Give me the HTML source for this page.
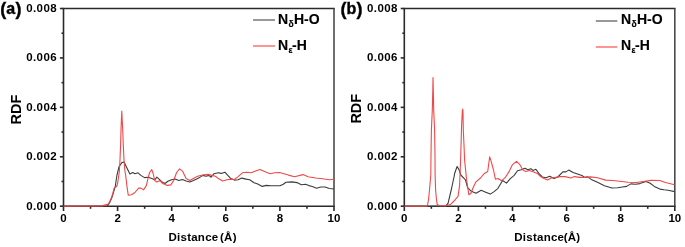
<!DOCTYPE html>
<html><head><meta charset="utf-8"><style>
html,body{margin:0;padding:0;background:#fff;}
body{width:685px;height:247px;overflow:hidden;}
svg{display:block;will-change:transform;}
text{font-family:"Liberation Sans",sans-serif;font-weight:bold;fill:#000;stroke:#000;stroke-width:0;}
.t{font-size:11.5px;}
.ty{font-size:11.5px;letter-spacing:0.4px;}
.xl{font-size:11.5px;letter-spacing:0.25px;}
.rdf{font-size:14.5px;}
.pl{font-size:16px;stroke-width:0.4px;}
.pp{font-size:18px;stroke-width:0.4px;}
.lg{font-size:14px;stroke-width:0.15px;}
.sub{font-size:8.5px;}
</style></head><body>
<svg width="685" height="247" viewBox="0 0 685 247">
<line x1="62.7" y1="8.5" x2="334.8" y2="8.5" stroke="#2a2a2a" stroke-width="1.6"/>
<line x1="62.7" y1="206.2" x2="334.8" y2="206.2" stroke="#2a2a2a" stroke-width="1.6"/>
<line x1="63.5" y1="8.5" x2="63.5" y2="206.2" stroke="#2a2a2a" stroke-width="1.6"/>
<line x1="334.0" y1="8.5" x2="334.0" y2="206.2" stroke="#4a4a4a" stroke-width="1.6"/>
<line x1="63.50" y1="206.2" x2="63.50" y2="211.0" stroke="#2a2a2a" stroke-width="1.6"/>
<text x="63.50" y="222" text-anchor="middle" class="t">0</text>
<line x1="90.55" y1="206.2" x2="90.55" y2="208.79999999999998" stroke="#2a2a2a" stroke-width="1.6"/>
<line x1="117.60" y1="206.2" x2="117.60" y2="211.0" stroke="#2a2a2a" stroke-width="1.6"/>
<text x="117.60" y="222" text-anchor="middle" class="t">2</text>
<line x1="144.65" y1="206.2" x2="144.65" y2="208.79999999999998" stroke="#2a2a2a" stroke-width="1.6"/>
<line x1="171.70" y1="206.2" x2="171.70" y2="211.0" stroke="#2a2a2a" stroke-width="1.6"/>
<text x="171.70" y="222" text-anchor="middle" class="t">4</text>
<line x1="198.75" y1="206.2" x2="198.75" y2="208.79999999999998" stroke="#2a2a2a" stroke-width="1.6"/>
<line x1="225.80" y1="206.2" x2="225.80" y2="211.0" stroke="#2a2a2a" stroke-width="1.6"/>
<text x="225.80" y="222" text-anchor="middle" class="t">6</text>
<line x1="252.85" y1="206.2" x2="252.85" y2="208.79999999999998" stroke="#2a2a2a" stroke-width="1.6"/>
<line x1="279.90" y1="206.2" x2="279.90" y2="211.0" stroke="#2a2a2a" stroke-width="1.6"/>
<text x="279.90" y="222" text-anchor="middle" class="t">8</text>
<line x1="306.95" y1="206.2" x2="306.95" y2="208.79999999999998" stroke="#2a2a2a" stroke-width="1.6"/>
<line x1="334.00" y1="206.2" x2="334.00" y2="211.0" stroke="#2a2a2a" stroke-width="1.6"/>
<text x="334.00" y="222" text-anchor="middle" class="t">10</text>
<line x1="59.9" y1="206.20" x2="63.5" y2="206.20" stroke="#2a2a2a" stroke-width="1.6"/>
<text x="57.00" y="209.50" text-anchor="end" class="ty">0.000</text>
<line x1="61.5" y1="181.49" x2="63.5" y2="181.49" stroke="#2a2a2a" stroke-width="1.6"/>
<line x1="59.9" y1="156.77" x2="63.5" y2="156.77" stroke="#2a2a2a" stroke-width="1.6"/>
<text x="57.00" y="160.07" text-anchor="end" class="ty">0.002</text>
<line x1="61.5" y1="132.06" x2="63.5" y2="132.06" stroke="#2a2a2a" stroke-width="1.6"/>
<line x1="59.9" y1="107.35" x2="63.5" y2="107.35" stroke="#2a2a2a" stroke-width="1.6"/>
<text x="57.00" y="110.65" text-anchor="end" class="ty">0.004</text>
<line x1="61.5" y1="82.64" x2="63.5" y2="82.64" stroke="#2a2a2a" stroke-width="1.6"/>
<line x1="59.9" y1="57.93" x2="63.5" y2="57.93" stroke="#2a2a2a" stroke-width="1.6"/>
<text x="57.00" y="61.23" text-anchor="end" class="ty">0.006</text>
<line x1="61.5" y1="33.21" x2="63.5" y2="33.21" stroke="#2a2a2a" stroke-width="1.6"/>
<line x1="59.9" y1="8.50" x2="63.5" y2="8.50" stroke="#2a2a2a" stroke-width="1.6"/>
<text x="57.00" y="11.80" text-anchor="end" class="ty">0.008</text>
<polyline points="63.6,206.2 107.4,206.0 109.6,202.8 111.9,197.5 114.1,190.3 115.4,185.9 116.2,180.0 117.0,175.0 119.0,166.7 121.9,162.6 124.1,162.0 126.3,166.7 129.9,174.0 132.8,172.5 135.0,173.7 138.0,172.8 140.9,175.4 144.5,177.6 148.2,177.2 151.8,178.6 154.7,179.8 156.9,177.2 159.1,179.1 162.0,182.0 165.0,183.5 167.9,181.3 171.5,179.8 175.2,179.1 178.8,180.5 182.5,179.5 186.1,181.0 189.8,182.0 193.4,180.5 197.8,178.4 199.4,177.6 203.0,175.4 206.0,176.2 208.9,175.4 211.1,177.2 214.0,173.7 218.4,172.8 221.3,173.4 224.9,172.2 227.8,175.4 230.8,178.6 234.4,180.1 238.1,179.8 241.7,178.1 246.1,179.1 249.7,179.8 254.1,182.7 257.8,183.9 262.2,186.4 266.5,185.4 270.9,185.7 275.3,185.7 280.0,185.8 283.3,184.2 286.0,182.2 291.9,181.9 297.0,182.6 301.3,184.8 305.5,184.3 308.9,185.6 312.3,186.5 316.6,188.2 320.8,187.0 325.1,187.0 329.3,188.5 334.0,189.0" fill="none" stroke="#3c3c3c" stroke-width="1.1" stroke-linejoin="round"/>
<polyline points="63.6,206.2 102.0,205.9 108.3,204.1 110.5,200.1 112.7,193.9 114.1,188.1 116.5,186.5 117.5,184.2 119.3,172.0 120.0,160.0 120.6,145.0 121.0,130.0 121.4,120.0 121.8,111.0 122.2,120.0 122.7,130.0 123.3,145.0 124.0,160.0 124.8,170.0 125.6,175.0 127.2,188.1 128.3,195.3 131.6,194.7 134.9,192.5 138.7,188.1 140.9,188.1 143.7,189.8 146.4,185.4 148.0,178.3 149.6,172.5 151.8,169.6 153.3,174.0 154.7,180.5 156.9,182.0 159.9,180.5 162.8,183.5 167.2,185.4 170.8,184.9 173.7,180.5 176.6,172.5 179.6,168.9 182.5,171.1 186.1,178.4 189.8,180.5 193.4,178.4 197.1,176.6 199.4,175.7 203.8,174.7 208.1,174.4 211.8,175.4 215.4,176.2 219.1,179.1 222.7,181.0 227.1,179.8 231.5,179.1 234.4,179.5 238.1,176.6 242.4,172.8 246.8,172.2 251.2,172.8 255.6,171.1 260.0,169.6 265.1,171.8 270.2,173.7 274.6,172.8 279.7,172.5 284.1,173.7 288.4,175.1 294.5,176.8 303.0,174.6 308.1,176.8 315.7,178.0 322.5,178.8 329.3,179.7 334.0,179.3" fill="none" stroke="#f04848" stroke-width="1.1" stroke-linejoin="round"/>
<text x="168.5" y="241" class="xl">Distance<tspan dx="1.6">(Å)</tspan></text>
<text transform="translate(20.50,109.6) rotate(-90)" text-anchor="middle" class="rdf">RDF</text>
<text x="0.3" y="14.8" class="pp">(</text>
<text x="6.3" y="13.7" class="pl">a</text>
<text x="15.5" y="14.8" class="pp">)</text>
<line x1="253" y1="20" x2="275" y2="20" stroke="#6d6d6d" stroke-width="1.4"/>
<line x1="253" y1="46" x2="275" y2="46" stroke="#f66" stroke-width="1.4"/>
<text transform="translate(278,23.6) scale(1.0,1)" class="lg">N<tspan class="sub" dy="3.6" dx="0.3">δ</tspan><tspan dy="-3.6" dx="0.4">H-O</tspan></text>
<text transform="translate(278,49.6) scale(1.0,1)" class="lg">N<tspan class="sub" dy="3.2" dx="0.3">ε</tspan><tspan dy="-3.2" dx="-0.4">-H</tspan></text>
<line x1="403.5" y1="8.5" x2="675.5999999999999" y2="8.5" stroke="#2a2a2a" stroke-width="1.6"/>
<line x1="403.5" y1="206.2" x2="675.5999999999999" y2="206.2" stroke="#2a2a2a" stroke-width="1.6"/>
<line x1="404.3" y1="8.5" x2="404.3" y2="206.2" stroke="#2a2a2a" stroke-width="1.6"/>
<line x1="674.8" y1="8.5" x2="674.8" y2="206.2" stroke="#4a4a4a" stroke-width="1.6"/>
<line x1="404.30" y1="206.2" x2="404.30" y2="211.0" stroke="#2a2a2a" stroke-width="1.6"/>
<text x="404.30" y="222" text-anchor="middle" class="t">0</text>
<line x1="431.35" y1="206.2" x2="431.35" y2="208.79999999999998" stroke="#2a2a2a" stroke-width="1.6"/>
<line x1="458.40" y1="206.2" x2="458.40" y2="211.0" stroke="#2a2a2a" stroke-width="1.6"/>
<text x="458.40" y="222" text-anchor="middle" class="t">2</text>
<line x1="485.45" y1="206.2" x2="485.45" y2="208.79999999999998" stroke="#2a2a2a" stroke-width="1.6"/>
<line x1="512.50" y1="206.2" x2="512.50" y2="211.0" stroke="#2a2a2a" stroke-width="1.6"/>
<text x="512.50" y="222" text-anchor="middle" class="t">4</text>
<line x1="539.55" y1="206.2" x2="539.55" y2="208.79999999999998" stroke="#2a2a2a" stroke-width="1.6"/>
<line x1="566.60" y1="206.2" x2="566.60" y2="211.0" stroke="#2a2a2a" stroke-width="1.6"/>
<text x="566.60" y="222" text-anchor="middle" class="t">6</text>
<line x1="593.65" y1="206.2" x2="593.65" y2="208.79999999999998" stroke="#2a2a2a" stroke-width="1.6"/>
<line x1="620.70" y1="206.2" x2="620.70" y2="211.0" stroke="#2a2a2a" stroke-width="1.6"/>
<text x="620.70" y="222" text-anchor="middle" class="t">8</text>
<line x1="647.75" y1="206.2" x2="647.75" y2="208.79999999999998" stroke="#2a2a2a" stroke-width="1.6"/>
<line x1="674.80" y1="206.2" x2="674.80" y2="211.0" stroke="#2a2a2a" stroke-width="1.6"/>
<text x="674.80" y="222" text-anchor="middle" class="t">10</text>
<line x1="400.7" y1="206.20" x2="404.3" y2="206.20" stroke="#2a2a2a" stroke-width="1.6"/>
<text x="397.80" y="209.50" text-anchor="end" class="ty">0.000</text>
<line x1="402.3" y1="181.49" x2="404.3" y2="181.49" stroke="#2a2a2a" stroke-width="1.6"/>
<line x1="400.7" y1="156.77" x2="404.3" y2="156.77" stroke="#2a2a2a" stroke-width="1.6"/>
<text x="397.80" y="160.07" text-anchor="end" class="ty">0.002</text>
<line x1="402.3" y1="132.06" x2="404.3" y2="132.06" stroke="#2a2a2a" stroke-width="1.6"/>
<line x1="400.7" y1="107.35" x2="404.3" y2="107.35" stroke="#2a2a2a" stroke-width="1.6"/>
<text x="397.80" y="110.65" text-anchor="end" class="ty">0.004</text>
<line x1="402.3" y1="82.64" x2="404.3" y2="82.64" stroke="#2a2a2a" stroke-width="1.6"/>
<line x1="400.7" y1="57.93" x2="404.3" y2="57.93" stroke="#2a2a2a" stroke-width="1.6"/>
<text x="397.80" y="61.23" text-anchor="end" class="ty">0.006</text>
<line x1="402.3" y1="33.21" x2="404.3" y2="33.21" stroke="#2a2a2a" stroke-width="1.6"/>
<line x1="400.7" y1="8.50" x2="404.3" y2="8.50" stroke="#2a2a2a" stroke-width="1.6"/>
<text x="397.80" y="11.80" text-anchor="end" class="ty">0.008</text>
<polyline points="404.3,206.2 445.8,206.2 448.1,203.1 451.2,190.0 452.3,185.0 454.2,176.2 454.7,173.2 457.1,166.5 459.0,169.6 460.8,175.0 463.8,178.1 465.5,180.0 467.6,187.7 470.8,190.9 476.0,193.2 481.2,190.3 485.7,192.2 490.3,194.1 494.1,191.6 498.0,188.3 502.6,180.5 506.5,183.1 510.3,178.6 514.2,175.4 517.5,170.8 521.3,169.7 524.9,168.2 527.8,169.7 530.8,168.7 533.0,170.4 535.9,169.3 538.8,173.4 542.4,177.0 546.1,177.7 549.7,176.3 554.1,178.5 557.8,177.0 562.9,171.9 565.8,171.9 568.7,170.1 573.1,172.6 577.5,174.1 581.9,175.5 584.8,177.4 587.8,176.9 591.2,179.4 597.5,182.2 604.4,185.7 612.0,188.0 617.6,187.7 622.4,187.0 626.6,186.4 630.8,183.9 635.6,184.3 639.8,183.6 646.0,181.5 650.2,183.3 654.3,186.4 659.9,189.1 664.1,189.8 668.2,190.2 674.6,191.6" fill="none" stroke="#3c3c3c" stroke-width="1.1" stroke-linejoin="round"/>
<polyline points="404.3,206.2 427.3,206.2 428.5,200.0 429.5,190.0 430.8,175.0 431.0,155.0 431.4,130.0 432.3,110.0 432.8,90.0 433.0,77.5 433.3,90.0 433.7,110.0 434.6,130.0 435.0,155.0 435.1,175.0 435.6,190.0 436.5,200.0 437.3,204.6 439.6,205.7 445.8,205.7 450.4,204.6 455.0,200.0 458.1,196.2 459.6,185.4 459.8,180.0 460.6,160.0 461.2,140.0 461.6,125.0 462.3,112.0 462.7,109.0 463.0,112.0 463.3,130.0 464.0,145.0 464.6,160.0 465.6,170.0 466.6,180.0 468.9,194.8 470.8,193.5 473.4,187.0 476.0,181.8 480.5,178.0 484.4,173.4 487.7,171.5 489.7,156.8 491.1,161.1 493.5,170.0 495.4,179.2 498.0,178.5 501.6,180.7 505.2,177.7 508.9,171.9 512.5,164.6 516.6,161.4 519.8,164.6 522.7,169.7 525.7,171.6 529.3,170.4 533.7,171.9 537.3,173.4 540.3,176.3 543.9,178.5 547.6,179.9 551.2,178.0 555.6,177.4 560.0,176.6 565.1,176.6 570.9,178.0 574.6,176.6 579.7,177.4 585.5,177.4 590.5,176.9 597.5,177.8 605.8,180.1 612.7,180.5 619.7,181.2 628.0,182.2 636.3,182.5 643.3,181.5 650.9,180.4 659.9,180.5 665.4,182.5 674.6,184.7" fill="none" stroke="#f04848" stroke-width="1.1" stroke-linejoin="round"/>
<text x="514.3" y="241" class="xl">Distance<tspan dx="-0.6">(Å)</tspan></text>
<text transform="translate(360.70,108.7) rotate(-90)" text-anchor="middle" class="rdf">RDF</text>
<text x="340.4" y="14.8" class="pp">(</text>
<text x="346.4" y="13.9" class="pl">b</text>
<text x="356.4" y="14.8" class="pp">)</text>
<line x1="595.8" y1="21" x2="617.3" y2="21" stroke="#6d6d6d" stroke-width="1.4"/>
<line x1="595.8" y1="47" x2="617.3" y2="47" stroke="#f66" stroke-width="1.4"/>
<text transform="translate(621,23.8) scale(1.0,1)" class="lg">N<tspan class="sub" dy="3.6" dx="0.3">δ</tspan><tspan dy="-3.6" dx="0.4">H-O</tspan></text>
<text transform="translate(621,49.6) scale(1.0,1)" class="lg">N<tspan class="sub" dy="3.2" dx="0.3">ε</tspan><tspan dy="-3.2" dx="-0.4">-H</tspan></text>
</svg>
</body></html>
